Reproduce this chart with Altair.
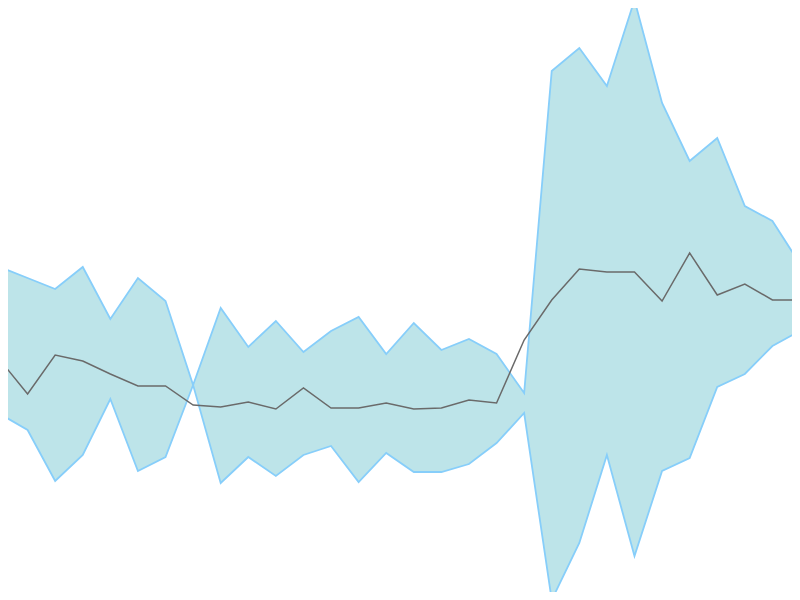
import altair as alt
import pandas as pd

step = list(range(30))
upper = [333, 322, 311, 333, 281, 322, 299, 215, 292, 253, 279, 248, 269, 283, 246,
         277, 250, 261, 246, 207, 529, 552, 514, 600, 497, 439, 462, 394, 379, 336]
lower = [186, 170, 119, 145, 201, 129, 143, 215, 117, 143, 124, 145, 154, 118, 147,
         128, 128, 136, 157, 187, 0, 57, 145, 44, 129, 142, 213, 226, 254, 269]
mean = [240, 206, 245, 239, 226, 214, 214, 195, 193, 198, 191, 212, 192, 192, 197,
        191, 192, 200, 197, 260, 300, 331, 328, 328, 299, 347, 305, 316, 300, 300]

df = pd.DataFrame({"step": step, "upper": upper, "lower": lower, "mean": mean})

xs = alt.Scale(domain=[0, 29], nice=False, zero=False)
ys = alt.Scale(domain=[0, 600], nice=False, zero=False)

band = alt.Chart(df).mark_area(
    color="#BDE4E9", opacity=1, stroke="#87CEFA", strokeWidth=1.8
).encode(
    x=alt.X("step:Q", scale=xs, axis=None),
    y=alt.Y("upper:Q", scale=ys, axis=None),
    y2="lower:Q",
)

line = alt.Chart(df).mark_line(color="#6a6a6a", strokeWidth=1.5).encode(
    x=alt.X("step:Q", scale=xs, axis=None),
    y=alt.Y("mean:Q", scale=ys, axis=None),
)

chart = (band + line).properties(
    width=800, height=600,
    padding={"left": -8, "top": -8, "right": -8, "bottom": -8},
    autosize="none",
).configure_view(stroke=None)

chart.save("out.html", embed_options={"renderer": "svg", "actions": False})
